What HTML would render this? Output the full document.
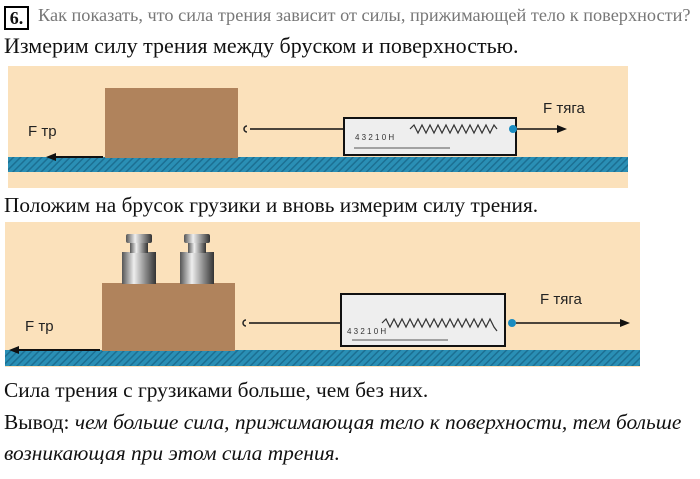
<!DOCTYPE html>
<html><head><meta charset="utf-8"><style>
body{margin:0;width:700px;height:479px;background:#fff;position:relative;overflow:hidden;font-family:"Liberation Serif",serif;}
.t{position:absolute;white-space:nowrap;color:#111;}
</style></head><body>
<div class="t" style="left:4px;top:6px;width:25px;height:24px;border:2px solid #000;box-sizing:border-box;font-weight:bold;font-size:18px;line-height:20px;text-align:center">6.</div>
<div class="t" style="left:38px;top:5px;font-size:18.3px;color:#777">Как показать, что сила трения зависит от силы, прижимающей тело к поверхности?</div>
<div class="t" style="left:4px;top:33px;font-size:22px">Измерим силу трения между бруском и поверхностью.</div>
<div class="t" style="left:4px;top:193px;font-size:21.3px">Положим на брусок грузики и вновь измерим силу трения.</div>
<div class="t" style="left:4px;top:378px;font-size:21.4px">Сила трения с грузиками больше, чем без них.</div>
<div class="t" style="left:4px;top:410px;font-size:21.4px">Вывод: <i>чем больше сила, прижимающая тело к поверхности, тем больше</i></div>
<div class="t" style="left:4px;top:441px;font-size:21.4px"><i>возникающая при этом сила трения.</i></div>
<svg width="700" height="479" style="position:absolute;left:0;top:0" font-family="Liberation Sans, sans-serif">
<defs>
<pattern id="h" width="5" height="5" patternUnits="userSpaceOnUse" patternTransform="rotate(45)"><rect width="5" height="5" fill="#2a8fb5"/><rect width="1.5" height="5" fill="#1c6f92"/></pattern>
<linearGradient id="w" x1="0" x2="1"><stop offset="0" stop-color="#555"/><stop offset=".35" stop-color="#eee"/><stop offset=".7" stop-color="#888"/><stop offset="1" stop-color="#333"/></linearGradient>
</defs>
<!-- panel 1 -->
<rect x="8" y="66" width="620" height="122" fill="#fbe1bb"/>
<rect x="8" y="157" width="620" height="15" fill="url(#h)"/>
<rect x="105" y="88" width="133" height="70" fill="#b0835c"/>
<line x1="103" y1="157" x2="52" y2="157" stroke="#111" stroke-width="2"/>
<polygon points="46,157 56,153 56,161" fill="#111"/>
<text x="28" y="136" font-size="15" fill="#222">F тр</text>
<path d="M247,126 a3,3 0 1,0 0,6" fill="none" stroke="#222" stroke-width="1.5"/>
<line x1="250" y1="129" x2="408" y2="129" stroke="#111" stroke-width="1.5"/>
<rect x="344" y="118" width="172" height="37" fill="#eee" stroke="#111" stroke-width="2"/>
<path d="M410,129 l4,-4 l4,8 l4,-8 l4,8 l4,-8 l4,8 l4,-8 l4,8 l4,-8 l4,8 l4,-8 l4,8 l4,-8 l4,8 l4,-8 l4,8 l4,-8 l4,8 l4,-8 l4,8 l4,-8 l3,4" fill="none" stroke="#333" stroke-width="1.2"/>
<line x1="354" y1="148" x2="450" y2="148" stroke="#555"/>
<text x="355" y="140" font-size="8" fill="#333">4  3  2  1  0         Н</text>
<circle cx="513" cy="129" r="4" fill="#1a8cc0"/>
<line x1="517" y1="129" x2="560" y2="129" stroke="#111" stroke-width="1.5"/>
<polygon points="567,129 557,125 557,133" fill="#111"/>
<text x="543" y="113" font-size="15" fill="#222">F тяга</text>
<!-- panel 2 -->
<rect x="5" y="222" width="635" height="145" fill="#fbe1bb"/>
<rect x="5" y="350" width="635" height="16" fill="url(#h)"/>
<rect x="102" y="283" width="133" height="68" fill="#b0835c"/>
<rect x="122" y="252" width="34" height="32" fill="url(#w)"/>
<rect x="130" y="242" width="18" height="11" fill="url(#w)"/>
<rect x="126" y="234" width="26" height="9" rx="2" fill="url(#w)"/>
<rect x="180" y="252" width="34" height="32" fill="url(#w)"/>
<rect x="188" y="242" width="18" height="11" fill="url(#w)"/>
<rect x="184" y="234" width="26" height="9" rx="2" fill="url(#w)"/>
<line x1="100" y1="350" x2="16" y2="350" stroke="#111" stroke-width="2"/>
<polygon points="9,350 19,346 19,354" fill="#111"/>
<text x="25" y="331" font-size="15" fill="#222">F тр</text>
<path d="M246,320 a3,3 0 1,0 0,6" fill="none" stroke="#222" stroke-width="1.5"/>
<line x1="249" y1="323" x2="380" y2="323" stroke="#111" stroke-width="1.5"/>
<rect x="341" y="294" width="164" height="52" fill="#eee" stroke="#111" stroke-width="2"/>
<path d="M382,323 l4,-4 l4,8 l4,-8 l4,8 l4,-8 l4,8 l4,-8 l4,8 l4,-8 l4,8 l4,-8 l4,8 l4,-8 l4,8 l4,-8 l4,8 l4,-8 l4,8 l4,-8 l4,8 l4,-8 l4,8 l4,-8 l4,8 l4,-8 l4,8 l4,-8 l4,8 l3,4" fill="none" stroke="#333" stroke-width="1.2"/>
<line x1="352" y1="340" x2="448" y2="340" stroke="#555"/>
<text x="347" y="334" font-size="8" fill="#333">4   3   2   1   0          Н</text>
<circle cx="512" cy="323" r="4" fill="#1a8cc0"/>
<line x1="516" y1="323" x2="622" y2="323" stroke="#111" stroke-width="1.5"/>
<polygon points="630,323 620,319 620,327" fill="#111"/>
<text x="540" y="304" font-size="15" fill="#222">F тяга</text>
</svg>
</body></html>
